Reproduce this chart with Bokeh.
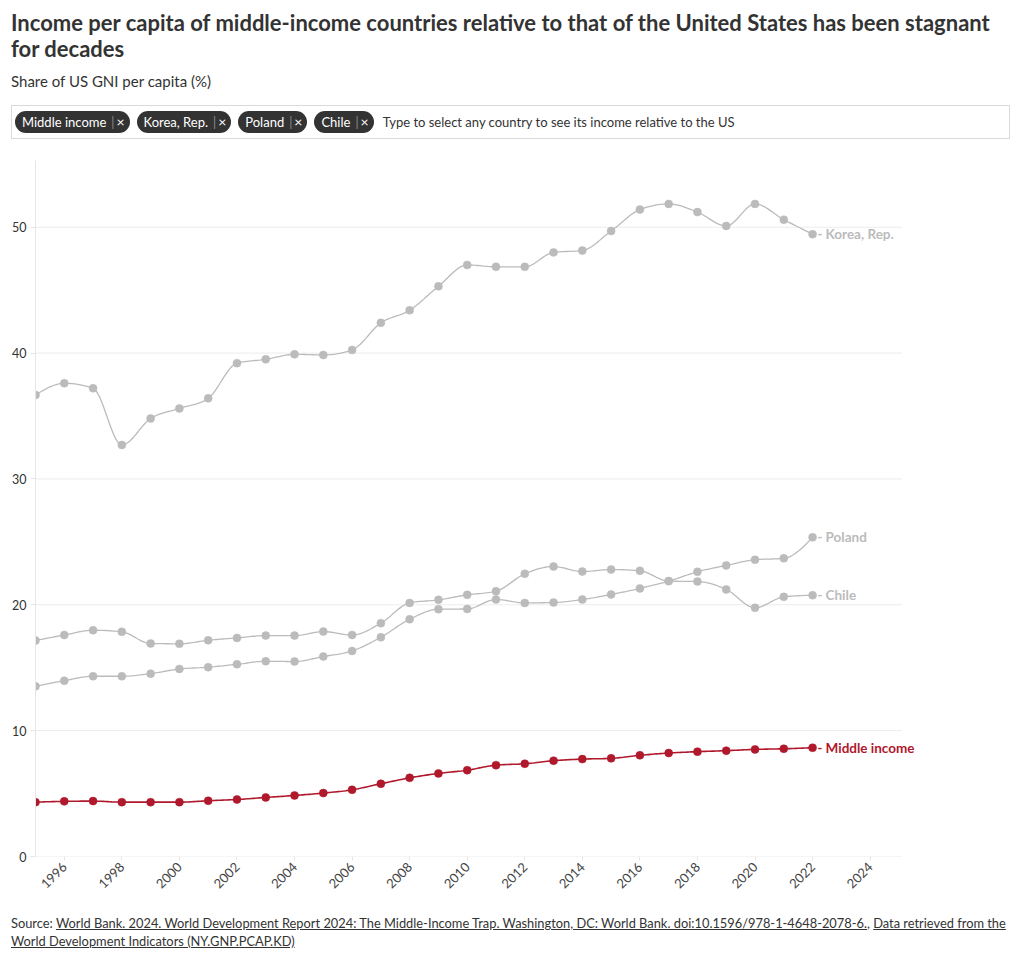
import numpy as np
from bokeh.plotting import figure
from bokeh.models import Range1d, FixedTicker, ColumnDataSource, LabelSet, Div
from bokeh.layouts import column
from bokeh.embed import file_html
from bokeh.resources import INLINE
from bokeh.core.properties import value

# ---------------- data ----------------
years = list(range(1995, 2023))
middle_income = [4.32, 4.38, 4.40, 4.32, 4.32, 4.32, 4.43, 4.53, 4.69, 4.85,
                 5.04, 5.30, 5.78, 6.25, 6.60, 6.86, 7.26, 7.37, 7.61, 7.74,
                 7.80, 8.04, 8.22, 8.33, 8.41, 8.51, 8.56, 8.64]
korea = [36.67, 37.60, 37.20, 32.70, 34.80, 35.60, 36.40, 39.20, 39.50, 39.90,
         39.85, 40.25, 42.40, 43.40, 45.30, 47.00, 46.85, 46.85, 48.00, 48.15,
         49.70, 51.40, 51.85, 51.20, 50.10, 51.85, 50.60, 49.45]
poland = [13.52, 13.97, 14.32, 14.32, 14.53, 14.90, 15.04, 15.27, 15.51, 15.49,
          15.89, 16.33, 17.42, 18.85, 19.65, 19.67, 20.42, 20.15, 20.18, 20.42,
          20.82, 21.30, 21.88, 22.62, 23.13, 23.58, 23.69, 25.36]
chile = [17.16, 17.60, 17.98, 17.85, 16.92, 16.90, 17.18, 17.37, 17.55, 17.55,
         17.87, 17.60, 18.54, 20.15, 20.39, 20.79, 21.08, 22.46, 23.04, 22.64,
         22.80, 22.70, 21.88, 21.85, 21.22, 19.76, 20.63, 20.76]

series_names = ["Korea, Rep.", "Poland", "Chile", "Middle income"]
series_values = [korea, poland, chile, middle_income]
series_colors = ["#bbbbbb", "#bbbbbb", "#bbbbbb", "#b0182c"]

x_ticks = [1996, 1998, 2000, 2002, 2004, 2006, 2008, 2010, 2012, 2014,
           2016, 2018, 2020, 2022, 2024]
y_ticks = [0, 10, 20, 30, 40, 50]

title_line1 = "Income per capita of middle-income countries relative to that of the United States has been stagnant"
title_line2 = "for decades"
subtitle = "Share of US GNI per capita (%)"
chips = ["Middle income", "Korea, Rep.", "Poland", "Chile"]
placeholder = "Type to select any country to see its income relative to the US"

FONT = "Lato"
X_START, GRID_END, X_END = 1995, 2025.11, 2025.75
Y_END = 55.3


def monotone_curve(xs, ys, steps=14):
    """Smooth monotone-x cubic curve through the data points (like d3.curveMonotoneX)."""
    xs = np.asarray(xs, float)
    ys = np.asarray(ys, float)
    n = len(xs)
    h = np.diff(xs)
    s = np.diff(ys) / h
    t = np.zeros(n)
    for i in range(1, n - 1):
        h0, h1 = h[i - 1], h[i]
        s0, s1 = s[i - 1], s[i]
        p = (s0 * h1 + s1 * h0) / (h0 + h1)
        t[i] = (np.sign(s0) + np.sign(s1)) * min(abs(s0), abs(s1), 0.5 * abs(p))
    t[0] = (3 * s[0] - t[1]) / 2
    t[-1] = (3 * s[-1] - t[-2]) / 2
    cx, cy = [xs[0]], [ys[0]]
    u = np.linspace(0, 1, steps + 1)[1:]
    for i in range(n - 1):
        dx = (xs[i + 1] - xs[i]) / 3
        p0 = (xs[i], ys[i])
        p1 = (xs[i] + dx, ys[i] + dx * t[i])
        p2 = (xs[i + 1] - dx, ys[i + 1] - dx * t[i + 1])
        p3 = (xs[i + 1], ys[i + 1])
        b0 = (1 - u) ** 3
        b1 = 3 * (1 - u) ** 2 * u
        b2 = 3 * (1 - u) * u ** 2
        b3 = u ** 3
        cx.extend(b0 * p0[0] + b1 * p1[0] + b2 * p2[0] + b3 * p3[0])
        cy.extend(b0 * p0[1] + b1 * p1[1] + b2 * p2[1] + b3 * p3[1])
    return cx, cy


# ---------------- header ----------------
chip_html = "".join(
    f'<span style="display:inline-flex;align-items:center;height:22px;background:#333333;'
    f'color:#ffffff;border-radius:11px;padding:0 5px 0 7px;margin-right:7px;font-size:13px;'
    f'white-space:nowrap;">{c}<span style="color:#cccccc;margin:0 2px 0 5px;font-weight:300;">|</span>'
    f'<span style="font-size:14px;">&#215;</span></span>'
    for c in chips
)
header_html = f"""
<div style="font-family:{FONT};color:#333333;width:1004px;">
  <div style="font-size:22px;font-weight:bold;line-height:26px;padding:2px 0 0 3px;white-space:nowrap;color:#333333;">{title_line1}<br>{title_line2}</div>
  <div style="font-size:15px;line-height:20px;padding:9px 0 0 3px;color:#333333;">{subtitle}</div>
  <div style="margin:14px 0 0 3px;width:999px;height:34px;border:1px solid #d9d9d9;box-sizing:border-box;
              display:flex;align-items:center;padding-left:3px;">
    {chip_html}<span style="font-size:13px;color:#333333;margin-left:2px;white-space:nowrap;">{placeholder}</span>
  </div>
</div>
"""
header = Div(text=header_html, width=1004, height=142, margin=(0, 0, 0, 0))

# ---------------- chart ----------------
p = figure(width=1004, height=755, x_range=Range1d(X_START, X_END), y_range=Range1d(0, Y_END),
           output_backend="svg", toolbar_location=None,
           min_border_left=27, min_border_right=92, min_border_top=10, min_border_bottom=49,
           margin=(0, 0, 0, 0))
p.outline_line_color = None
p.background_fill_color = "#ffffff"
p.border_fill_color = "#ffffff"

p.xgrid.grid_line_color = None
p.ygrid.grid_line_color = None

# horizontal gridlines (end before the label area, as in the reference)
p.segment(x0=[X_START] * len(y_ticks), x1=[GRID_END] * len(y_ticks), y0=y_ticks, y1=y_ticks,
          line_color="#ececec", line_width=1)

p.yaxis.ticker = FixedTicker(ticks=y_ticks)
p.yaxis.axis_line_color = "#e6e6e6"
p.yaxis.major_tick_line_color = "#e6e6e6"
p.yaxis.major_tick_out = 5
p.yaxis.major_tick_in = 0
p.yaxis.minor_tick_line_color = None
p.yaxis.major_label_text_font = FONT
p.yaxis.major_label_text_font_size = "12.5px"
p.yaxis.major_label_text_color = "#333333"
p.yaxis.major_label_standoff = 4

p.xaxis.ticker = FixedTicker(ticks=x_ticks)
p.xaxis.axis_line_color = None
p.xaxis.major_tick_line_color = "#e6e6e6"
p.xaxis.major_tick_out = 4
p.xaxis.major_tick_in = 0
p.xaxis.minor_tick_line_color = None
p.xaxis.major_label_orientation = np.pi / 4
p.xaxis.major_label_text_font = FONT
p.xaxis.major_label_text_font_size = "13px"
p.xaxis.major_label_text_color = "#444444"
p.xaxis.major_label_standoff = 4

for name, vals, col in zip(series_names, series_values, series_colors):
    cx, cy = monotone_curve(years, vals)
    lw = 1.6 if col != "#bbbbbb" else 1.3
    p.line(cx, cy, line_color=col, line_width=lw)
    p.scatter(years, vals, size=8, fill_color=col, line_color=col, line_width=0.5)

lab_src = ColumnDataSource(dict(
    x=[years[-1]] * len(series_names),
    y=[v[-1] for v in series_values],
    name=series_names,
    dash=["-"] * len(series_names),
    color=series_colors,
))
p.add_layout(LabelSet(x="x", y="y", text="dash", source=lab_src, x_offset=5, y_offset=0,
                      text_color="color", text_font=value(FONT), text_font_style="bold",
                      text_font_size="13px", text_baseline="middle", text_align="left"))
p.add_layout(LabelSet(x="x", y="y", text="name", source=lab_src, x_offset=13, y_offset=0,
                      text_color="color", text_font=value(FONT), text_font_style="bold",
                      text_font_size="13.5px", text_baseline="middle", text_align="left"))

# ---------------- footer ----------------
footer_html = f"""
<div style="font-family:{FONT};font-size:12.85px;line-height:18px;color:#333333;padding:9px 0 0 3px;width:1004px;">
  <div style="white-space:nowrap;">Source: <span style="text-decoration:underline;">World Bank. 2024. World Development Report 2024: The Middle-Income Trap. Washington, DC: World Bank. doi:10.1596/978-1-4648-2078-6.</span>, <span style="text-decoration:underline;">Data retrieved from the</span></div>
  <div style="white-space:nowrap;"><span style="text-decoration:underline;">World Development Indicators (NY.GNP.PCAP.KD)</span></div>
</div>
"""
footer = Div(text=footer_html, width=1004, height=50, margin=(0, 0, 0, 0))

layout = column(header, p, footer, spacing=0, margin=(8, 0, 0, 8))
open("out.html", "w").write(file_html(layout, INLINE))
